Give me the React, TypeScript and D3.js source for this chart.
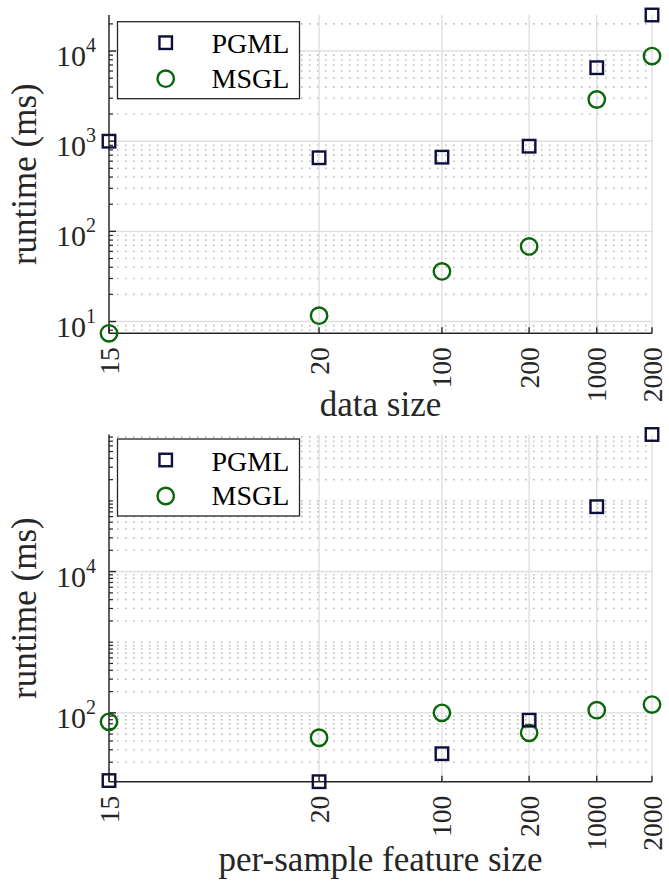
import React from 'react';
import * as d3 from 'd3';

const W = 669;
const H = 881;

// x positions are the index 1..6 on a log axis, labelled with the sizes
const xIndex = [1, 2, 3, 4, 5, 6];
const xLabels = ['15', '20', '100', '200', '1000', '2000'];

const dataPGML = [1000, 655, 665, 880, 6530, 25100];
const dataMSGL = [7.4, 11.6, 35.9, 68, 2900, 8800];
const featPGML = [11.0, 10.6, 26.4, 78.7, 82800, 871000];
const featMSGL = [74.6, 44.4, 100, 52.2, 109, 131];

const dataYTicks = [10, 100, 1000, 10000];
const featYTicks = [100, 10000];

const seriesNames = ['PGML', 'MSGL'];

const SQ_COLOR = '#0f0f3d';
const CI_COLOR = '#0a660a';
const AXIS = '#262626';
const FONT = '"Liberation Serif", "Times New Roman", serif';

type PanelProps = {
  top: number;
  bottom: number;
  pgml: number[];
  msgl: number[];
  yTicks: number[];
  xTitle: string;
  xTitleY: number;
  legendTop: number;
};

const left = 109;
const right = 652;

const Panel = ({ top, bottom, pgml, msgl, yTicks, xTitle, xTitleY, legendTop }: PanelProps) => {
  const x = d3.scaleLog().domain([1, 6]).range([left, right]);
  const all = pgml.concat(msgl);
  const y = d3.scaleLog()
    .domain(d3.extent(all) as [number, number])
    .range([bottom, top]);

  const minor = y.ticks().filter(t => !yTicks.some(m => Math.abs(m - t) / m < 1e-6));
  const sq = 12.5;

  return (
    <g>
      {/* minor grid */}
      {minor.map((t, i) => (
        <line key={'mg' + i} x1={left} x2={right} y1={y(t)} y2={y(t)}
          stroke="#bdbdbd" strokeWidth={1.6} strokeDasharray="1.6 6.4" />
      ))}
      {/* major grid */}
      {yTicks.map((t, i) => (
        <line key={'Mg' + i} x1={left} x2={right} y1={y(t)} y2={y(t)}
          stroke="#dedede" strokeWidth={1.4} />
      ))}
      {xIndex.map((v, i) => (
        <line key={'vg' + i} x1={x(v)} x2={x(v)} y1={top} y2={bottom}
          stroke="#dedede" strokeWidth={1.4} />
      ))}

      {/* axes */}
      <line x1={left} x2={left} y1={top} y2={bottom} stroke={AXIS} strokeWidth={1.4} />
      <line x1={left} x2={right} y1={bottom} y2={bottom} stroke={AXIS} strokeWidth={1.4} />
      {minor.map((t, i) => (
        <line key={'mt' + i} x1={left} x2={left + 4} y1={y(t)} y2={y(t)} stroke={AXIS} strokeWidth={1.2} />
      ))}
      {yTicks.map((t, i) => (
        <line key={'Mt' + i} x1={left} x2={left + 7} y1={y(t)} y2={y(t)} stroke={AXIS} strokeWidth={1.4} />
      ))}
      {xIndex.map((v, i) => (
        <line key={'xt' + i} x1={x(v)} x2={x(v)} y1={bottom} y2={bottom - 6} stroke={AXIS} strokeWidth={1.4} />
      ))}

      {/* y tick labels */}
      {yTicks.map((t, i) => (
        <text key={'yl' + i} x={96} y={y(t) + 15} textAnchor="end" fontFamily={FONT}
          fontSize={30} fill={AXIS}>
          10<tspan fontSize={20} dy={-14}>{Math.round(Math.log10(t))}</tspan>
        </text>
      ))}

      {/* x tick labels */}
      {xIndex.map((v, i) => (
        <text key={'xl' + i} transform={`translate(${x(v) + 9.5},${bottom + 14}) rotate(-90)`}
          textAnchor="end" fontFamily={FONT} fontSize={27.5} fill={AXIS}>
          {xLabels[i]}
        </text>
      ))}

      {/* titles */}
      <text x={(left + right) / 2} y={xTitleY} textAnchor="middle" fontFamily={FONT}
        fontSize={35} fill={AXIS}>{xTitle}</text>
      <text transform={`translate(36,${(top + bottom) / 2}) rotate(-90)`} textAnchor="middle"
        fontFamily={FONT} fontSize={35} fill={AXIS}>runtime (ms)</text>

      {/* markers */}
      {msgl.map((v, i) => (
        <circle key={'c' + i} cx={x(xIndex[i])} cy={y(v)} r={8.2}
          fill="none" stroke={CI_COLOR} strokeWidth={2.4} />
      ))}
      {pgml.map((v, i) => (
        <rect key={'s' + i} x={x(xIndex[i]) - sq / 2} y={y(v) - sq / 2} width={sq} height={sq}
          fill="none" stroke={SQ_COLOR} strokeWidth={2.4} />
      ))}

      {/* legend */}
      <rect x={117.5} y={legendTop} width={182} height={77} fill="#fff" stroke={AXIS} strokeWidth={1.3} />
      <rect x={165.7 - sq / 2} y={legendTop + 21 - sq / 2} width={sq} height={sq}
        fill="none" stroke={SQ_COLOR} strokeWidth={2.4} />
      <circle cx={165.7} cy={legendTop + 57} r={8.2} fill="none" stroke={CI_COLOR} strokeWidth={2.4} />
      {seriesNames.map((s, i) => (
        <text key={'lg' + i} x={211.5} y={legendTop + 31.5 + i * 34.5} fontFamily={FONT}
          fontSize={28} fill="#000">{s}</text>
      ))}
    </g>
  );
};

export default function App() {
  return (
    <svg width={W} height={H} style={{ position: 'absolute', left: 0, top: 0, background: '#fff' }}>
      <Panel top={15} bottom={333.3} pgml={dataPGML} msgl={dataMSGL} yTicks={dataYTicks}
        xTitle="data size" xTitleY={416} legendTop={21.7} />
      <Panel top={434.5} bottom={781.7} pgml={featPGML} msgl={featMSGL} yTicks={featYTicks}
        xTitle="per-sample feature size" xTitleY={871} legendTop={439} />
    </svg>
  );
}
